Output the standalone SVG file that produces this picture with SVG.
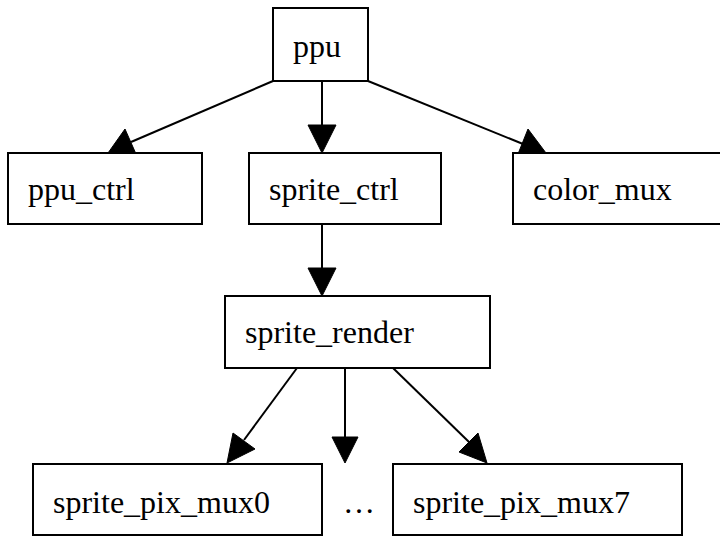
<svg xmlns="http://www.w3.org/2000/svg" width="720" height="537" viewBox="0 0 720 537">
  <defs>
    <style>
      .node rect { fill: #ffffff; stroke: #000000; stroke-width: 2; }
      .node text { font-family: "Liberation Serif", "Times New Roman", serif; font-size: 32px; fill: #000000; }
      .edge { stroke: #000000; stroke-width: 2; fill: none; }
      .head { fill: #000000; stroke: #000000; stroke-width: 1; }
    </style>
  </defs>
  <rect width="720" height="537" fill="#ffffff"/>

  <!-- connectors -->
  <g id="edges">
    <!-- ppu -> ppu_ctrl -->
    <line class="edge" x1="273" y1="81" x2="131" y2="142"/>
    <polygon class="head" points="108,153 125,129 136,154"/>
    <!-- ppu -> sprite_ctrl -->
    <line class="edge" x1="322" y1="81" x2="322" y2="127"/>
    <polygon class="head" points="308,125 336,125 322,153"/>
    <!-- ppu -> color_mux -->
    <line class="edge" x1="368" y1="81" x2="523" y2="144"/>
    <polygon class="head" points="546,153 518,154 528,129"/>
    <!-- sprite_ctrl -> sprite_render -->
    <line class="edge" x1="322" y1="224" x2="322" y2="270"/>
    <polygon class="head" points="308,268 336,268 322,296"/>
    <!-- sprite_render -> sprite_pix_mux0 -->
    <line class="edge" x1="297" y1="368" x2="244" y2="440"/>
    <polygon class="head" points="227,463 233,433 255,449"/>
    <!-- sprite_render -> ellipsis -->
    <line class="edge" x1="345" y1="368" x2="345" y2="439"/>
    <polygon class="head" points="332,437 358,437 345,463"/>
    <!-- sprite_render -> sprite_pix_mux7 -->
    <line class="edge" x1="393" y1="368" x2="469" y2="442"/>
    <polygon class="head" points="487,463 459,452 478,433"/>
  </g>

  <g id="ppu" class="node">
    <rect x="273" y="8" width="95" height="73"/>
    <text x="293" y="57">ppu</text>
  </g>
  <g id="ppu_ctrl" class="node">
    <rect x="8" y="153" width="194" height="71"/>
    <text x="28" y="200">ppu_ctrl</text>
  </g>
  <g id="sprite_ctrl" class="node">
    <rect x="249" y="153" width="192" height="71"/>
    <text x="269" y="200">sprite_ctrl</text>
  </g>
  <g id="color_mux" class="node">
    <rect x="513" y="153" width="210" height="71"/>
    <text x="533" y="200">color_mux</text>
  </g>
  <g id="sprite_render" class="node">
    <rect x="225" y="296" width="265" height="72"/>
    <text x="245" y="343">sprite_render</text>
  </g>
  <g id="sprite_pix_mux0" class="node">
    <rect x="33" y="464" width="289" height="71"/>
    <text x="53" y="513">sprite_pix_mux0</text>
  </g>
  <g id="ellipsis" class="node">
    <text x="343" y="513">…</text>
  </g>
  <g id="sprite_pix_mux7" class="node">
    <rect x="393" y="464" width="289" height="71"/>
    <text x="413" y="513">sprite_pix_mux7</text>
  </g>
</svg>
